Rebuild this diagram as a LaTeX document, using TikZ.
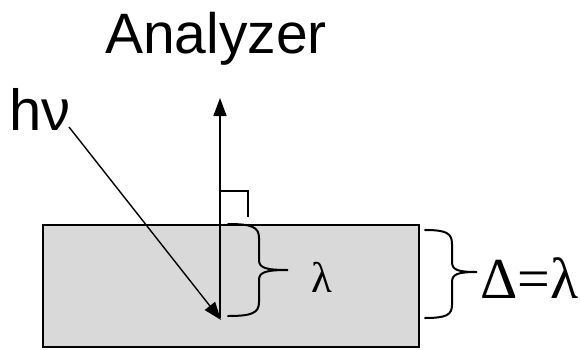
\documentclass[tikz,border=0pt]{standalone}
\usepackage{fontspec}
\setmainfont{Liberation Serif}
\newfontfamily\arialfont{Liberation Sans}
\newfontfamily\timesfont{Liberation Serif}
\usetikzlibrary{arrows.meta,positioning}

\definecolor{samplegray}{RGB}{217,217,217}

\begin{document}
\begin{tikzpicture}[x=1pt, y=-1pt,
  sample/.style={draw, fill=samplegray, line width=1.5pt, inner sep=0pt,
                 minimum width=376pt, minimum height=122pt, anchor=north west},
  bigtext/.style={inner sep=0pt, font=\arialfont\fontsize{57}{60}\selectfont},
  greek/.style={inner sep=0pt, anchor=base west},
  ray/.style={-{Triangle[length=18pt,width=13pt]}, line width=1.4pt},
  curly/.style={line width=2pt, line cap=round},
  >=Stealth
]
  \useasboundingbox (0,0) rectangle (581,349);

  % Sample slab
  \node[sample] (slab) at (42,224) {};

  % Labels
  \node[bigtext, anchor=base] (analyzer) at (216,53) {Analyzer};
  \node[greek, font=\arialfont\fontsize{58}{60}\selectfont] (hnu) at (9,130) {hν};
  \node[greek, font=\timesfont\fontsize{43}{48}\selectfont] (lam) at (311,292) {λ};
  \node[greek, font=\timesfont\fontsize{58}{60}\selectfont] (delta) at (480,298) {Δ=λ};

  % Incoming photon and emitted electron
  \coordinate (hvtail) at (69,127);
  \coordinate (depth)  at (221,320);
  \coordinate (emit)   at (220,318);
  \coordinate (detect) at (220,98);
  \draw[ray] (hvtail) -- (depth);
  \draw[ray] (emit) -- (detect);

  % Normal marker
  \draw[line width=1.4pt] (220,191) -| (248,217);

  % Escape depth brace
  \draw[curly] (228,224) .. controls (252,224) and (259,227) .. (259,238)
    -- (259,260) .. controls (259,268) and (266,270) .. (288,270)
    .. controls (266,270) and (259,272) .. (259,280)
    -- (259,302) .. controls (259,313) and (252,316) .. (228,316);

  % Slab thickness brace
  \draw[curly] (425,230) .. controls (446,230) and (452,233) .. (452,244)
    -- (452,262) .. controls (452,270) and (458,272) .. (477,272)
    .. controls (458,272) and (452,274) .. (452,282)
    -- (452,305) .. controls (452,315) and (446,318) .. (425,318);
\end{tikzpicture}
\end{document}
